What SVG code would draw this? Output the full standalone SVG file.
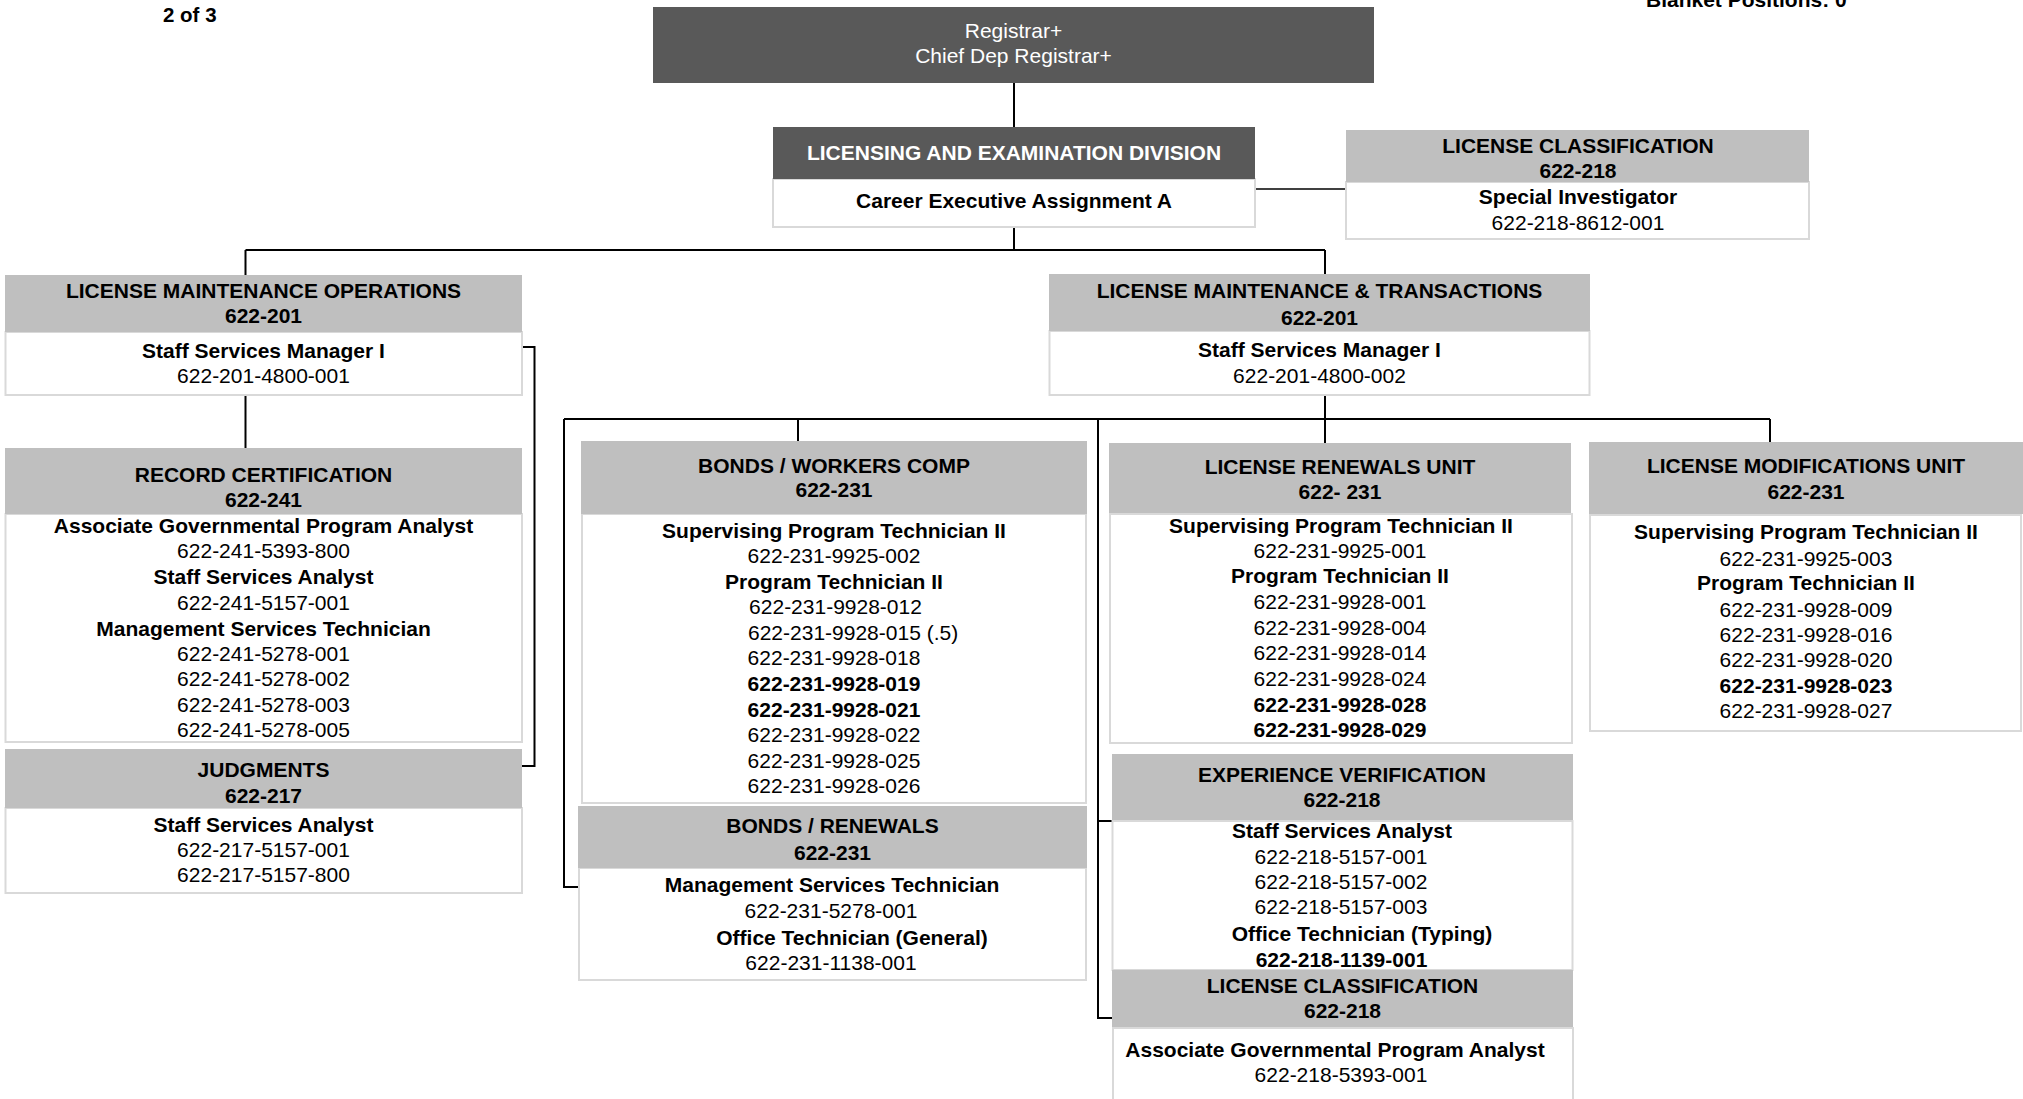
<svg xmlns="http://www.w3.org/2000/svg" width="2023" height="1099" viewBox="0 0 2023 1099">
<style>
.dark{fill:#595959}
.hdr{fill:#bfbfbf}
.body{fill:#ffffff;stroke:#d9d9d9;stroke-width:2}
text{font-family:"Liberation Sans",Arial,sans-serif;font-size:21px;fill:#000;text-anchor:middle}
.b{font-weight:bold}
.w{fill:#ffffff}
.s{text-anchor:start}
.ln{stroke:#000;stroke-width:2;fill:none}
.thin{stroke:#000;stroke-width:1.5;fill:none}
</style>
<rect width="2023" height="1099" fill="#ffffff"/>
<text class="b s" x="163" y="22" style="font-size:20.5px">2 of 3</text>
<text class="b s" x="1646" y="7">Blanket Positions: 0</text>

<g id="connectors">
<path class="ln" d="M1014,83 V127"/>
<path class="thin" d="M1255,189 H1346"/>
<path class="ln" d="M1014,227 V250 M245.5,250 H1325 M245.5,250 V275 M1325,250 V274"/>
<path class="ln" d="M245.5,395 V448"/>
<path class="ln" d="M522,347 H534.5 V766 H522"/>
<path class="ln" d="M1325,395 V443"/>
<path class="ln" d="M564,419 H1770"/>
<path class="ln" d="M564,419 V887 H579"/>
<path class="ln" d="M798,419 V441"/>
<path class="ln" d="M1098,419 V1018 H1112 M1098,821 H1112"/>
<path class="ln" d="M1770,419 V442"/>
</g>

<g id="registrar">
<rect class="dark" x="653" y="7" width="721" height="76"/>
<text class="w" x="1013.5" y="38">Registrar+</text>
<text class="w" x="1013.5" y="63">Chief Dep Registrar+</text>
</g>

<g id="licensing-exam-division">
<rect class="body" x="773" y="179" width="482" height="48"/>
<rect class="dark" x="773" y="127" width="482" height="52"/>
<text class="b w" x="1014" y="160">LICENSING AND EXAMINATION DIVISION</text>
<text class="b" x="1014" y="208">Career Executive Assignment A</text>
</g>

<g id="license-classification-top">
<rect class="body" x="1346" y="182" width="463" height="57"/>
<rect class="hdr" x="1346" y="130" width="463" height="52"/>
<text class="b" x="1578" y="153">LICENSE CLASSIFICATION</text>
<text class="b" x="1578" y="178">622-218</text>
<text class="b" x="1578" y="204">Special Investigator</text>
<text x="1578" y="230">622-218-8612-001</text>
</g>

<g id="license-maintenance-operations">
<rect class="body" x="5.5" y="332" width="516.5" height="63"/>
<rect class="hdr" x="5" y="275" width="517" height="57"/>
<text class="b" x="263.5" y="298">LICENSE MAINTENANCE OPERATIONS</text>
<text class="b" x="263.5" y="323">622-201</text>
<text class="b" x="263.5" y="358">Staff Services Manager I</text>
<text x="263.5" y="383">622-201-4800-001</text>
</g>

<g id="record-certification">
<rect class="body" x="5.5" y="514" width="516.5" height="228"/>
<rect class="hdr" x="5" y="448" width="517" height="66"/>
<text class="b" x="263.5" y="482">RECORD CERTIFICATION</text>
<text class="b" x="263.5" y="507">622-241</text>
<text class="b" x="263.5" y="533">Associate Governmental Program Analyst</text>
<text x="263.5" y="558">622-241-5393-800</text>
<text class="b" x="263.5" y="584">Staff Services Analyst</text>
<text x="263.5" y="610">622-241-5157-001</text>
<text class="b" x="263.5" y="636">Management Services Technician</text>
<text x="263.5" y="661">622-241-5278-001</text>
<text x="263.5" y="686">622-241-5278-002</text>
<text x="263.5" y="711.5">622-241-5278-003</text>
<text x="263.5" y="737">622-241-5278-005</text>
</g>

<g id="judgments">
<rect class="body" x="5.5" y="808" width="516.5" height="85"/>
<rect class="hdr" x="5" y="749" width="517" height="59"/>
<text class="b" x="263.5" y="777">JUDGMENTS</text>
<text class="b" x="263.5" y="802.5">622-217</text>
<text class="b" x="263.5" y="832">Staff Services Analyst</text>
<text x="263.5" y="857">622-217-5157-001</text>
<text x="263.5" y="882">622-217-5157-800</text>
</g>

<g id="license-maintenance-transactions">
<rect class="body" x="1049.5" y="331" width="540" height="64"/>
<rect class="hdr" x="1049" y="274" width="541" height="57"/>
<text class="b" x="1319.5" y="297.5">LICENSE MAINTENANCE &amp; TRANSACTIONS</text>
<text class="b" x="1319.5" y="324.5">622-201</text>
<text class="b" x="1319.5" y="356.5">Staff Services Manager I</text>
<text x="1319.5" y="382.5">622-201-4800-002</text>
</g>

<g id="bonds-workers-comp">
<rect class="body" x="582" y="514" width="504" height="289"/>
<rect class="hdr" x="581" y="441" width="506" height="73"/>
<text class="b" x="834" y="473">BONDS / WORKERS COMP</text>
<text class="b" x="834" y="497">622-231</text>
<text class="b" x="834" y="538">Supervising Program Technician II</text>
<text x="834" y="563">622-231-9925-002</text>
<text class="b" x="834" y="589">Program Technician II</text>
<text x="835.5" y="614">622-231-9928-012</text>
<text class="s" x="748" y="640">622-231-9928-015 (.5)</text>
<text x="834" y="665">622-231-9928-018</text>
<text class="b" x="834" y="691">622-231-9928-019</text>
<text class="b" x="834" y="716.5">622-231-9928-021</text>
<text x="834" y="742">622-231-9928-022</text>
<text x="834" y="767.5">622-231-9928-025</text>
<text x="834" y="793">622-231-9928-026</text>
</g>

<g id="bonds-renewals">
<rect class="body" x="579" y="868" width="507" height="112"/>
<rect class="hdr" x="578" y="806" width="509" height="62"/>
<text class="b" x="832.5" y="833">BONDS / RENEWALS</text>
<text class="b" x="832.5" y="860">622-231</text>
<text class="b" x="832" y="892">Management Services Technician</text>
<text x="831" y="918">622-231-5278-001</text>
<text class="b" x="852" y="945">Office Technician (General)</text>
<text x="831" y="970">622-231-1138-001</text>
</g>

<g id="license-renewals-unit">
<rect class="body" x="1110" y="514" width="462" height="229"/>
<rect class="hdr" x="1109" y="443" width="462" height="70"/>
<text class="b" x="1340" y="474">LICENSE RENEWALS UNIT</text>
<text class="b" x="1340" y="499">622- 231</text>
<text class="b" x="1341" y="533">Supervising Program Technician II</text>
<text x="1340" y="558">622-231-9925-001</text>
<text class="b" x="1340" y="583">Program Technician II</text>
<text x="1340" y="609">622-231-9928-001</text>
<text x="1340" y="635">622-231-9928-004</text>
<text x="1340" y="660">622-231-9928-014</text>
<text x="1340" y="686">622-231-9928-024</text>
<text class="b" x="1340" y="711.5">622-231-9928-028</text>
<text class="b" x="1340" y="737">622-231-9928-029</text>
</g>

<g id="experience-verification">
<rect class="body" x="1112.5" y="821" width="460" height="149"/>
<rect class="hdr" x="1112" y="754" width="461" height="66"/>
<text class="b" x="1342" y="781.5">EXPERIENCE VERIFICATION</text>
<text class="b" x="1342" y="806.5">622-218</text>
<text class="b" x="1342" y="838">Staff Services Analyst</text>
<text x="1341" y="864">622-218-5157-001</text>
<text x="1341" y="889">622-218-5157-002</text>
<text x="1341" y="914">622-218-5157-003</text>
<text class="b" x="1362" y="941">Office Technician (Typing)</text>
<text class="b" x="1341.5" y="966.5">622-218-1139-001</text>
</g>

<g id="license-classification-bottom">
<rect class="body" x="1113" y="1028" width="460" height="90"/>
<rect class="hdr" x="1112" y="970" width="461" height="57"/>
<text class="b" x="1342.5" y="993">LICENSE CLASSIFICATION</text>
<text class="b" x="1342.5" y="1018">622-218</text>
<text class="b" x="1335" y="1056.5">Associate Governmental Program Analyst</text>
<text x="1341" y="1081.5">622-218-5393-001</text>
</g>

<g id="license-modifications-unit">
<rect class="body" x="1590" y="515" width="431" height="216"/>
<rect class="hdr" x="1589" y="442" width="434" height="72"/>
<text class="b" x="1806" y="473">LICENSE MODIFICATIONS UNIT</text>
<text class="b" x="1806" y="499">622-231</text>
<text class="b" x="1806" y="539">Supervising Program Technician II</text>
<text x="1806" y="565.5">622-231-9925-003</text>
<text class="b" x="1806" y="590">Program Technician II</text>
<text x="1806" y="616.5">622-231-9928-009</text>
<text x="1806" y="641.5">622-231-9928-016</text>
<text x="1806" y="667">622-231-9928-020</text>
<text class="b" x="1806" y="693">622-231-9928-023</text>
<text x="1806" y="718">622-231-9928-027</text>
</g>
</svg>
